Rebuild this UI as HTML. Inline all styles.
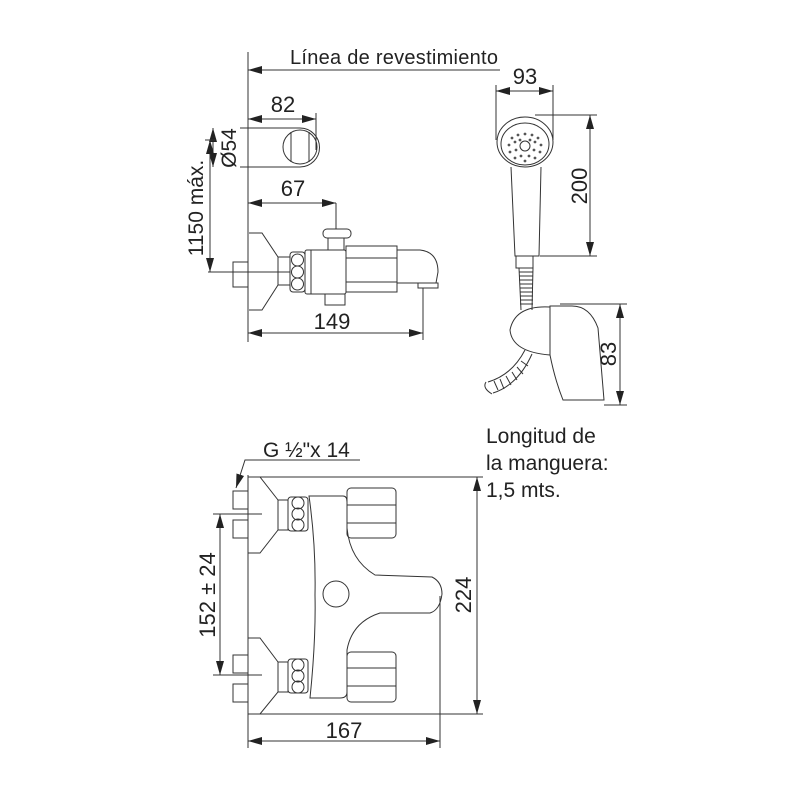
<!DOCTYPE html>
<html><head><meta charset="utf-8"><style>
html,body{margin:0;padding:0;background:#fff;}
svg{display:block}
text{font-family:"Liberation Sans",Arial,sans-serif;fill:#222;}
</style></head><body>
<svg width="800" height="800" viewBox="0 0 800 800" xmlns="http://www.w3.org/2000/svg">
<defs>
<marker id="a" viewBox="0 0 14 8" refX="14" refY="4" markerWidth="14" markerHeight="8" markerUnits="userSpaceOnUse" orient="auto-start-reverse">
<path d="M0,0 L14,4 L0,8 Z" fill="#222"/>
</marker>
</defs>
<g stroke="#333" stroke-width="1" fill="none">
<line x1="248" y1="52" x2="248" y2="342"/>
<line x1="248" y1="70" x2="500" y2="70" marker-start="url(#a)"/>
<line x1="248" y1="119" x2="316" y2="119" marker-start="url(#a)" marker-end="url(#a)"/>
<line x1="316" y1="113" x2="316" y2="150"/>
<path d="M240,128 L300,128 A17,17 0 1,1 300,167 L240,167"/>
<circle cx="300" cy="147" r="17"/>
<path d="M291,132 L291,162 M309,132 L309,162"/>
<line x1="213" y1="128" x2="213" y2="167" marker-start="url(#a)" marker-end="url(#a)"/>
<line x1="210" y1="140" x2="210" y2="272" marker-start="url(#a)" marker-end="url(#a)"/>
<line x1="205" y1="140" x2="215" y2="140"/>
<line x1="208" y1="272" x2="290" y2="272"/>
<line x1="248" y1="203" x2="336" y2="203" marker-start="url(#a)" marker-end="url(#a)"/>
<line x1="336" y1="203" x2="336" y2="229"/>
<path d="M249,233 L262,233 L278,257 L278,285 L262,310 L249,310"/>
<rect x="233" y="262" width="15" height="25"/>
<rect x="278" y="257" width="12" height="28"/>
<rect x="290" y="252" width="15" height="40" rx="3"/>
<circle cx="297.5" cy="260" r="6"/><circle cx="297.5" cy="272" r="6"/><circle cx="297.5" cy="284" r="6"/>
<rect x="305" y="250" width="41" height="44" rx="2"/>
<line x1="311" y1="250" x2="311" y2="294"/>
<rect x="325" y="294" width="20" height="11"/>
<rect x="323" y="229" width="28" height="9" rx="4"/>
<rect x="328" y="238" width="16" height="12"/>
<path d="M346,246 L397,246 L397,292 L346,292 Z"/>
<line x1="346" y1="258" x2="397" y2="258"/><line x1="346" y1="282" x2="397" y2="282"/>
<path d="M397,250 L420,250 Q438,252 438,272 L436,283 L397,283"/>
<rect x="418" y="283" width="20" height="5"/>
<line x1="248" y1="333" x2="423" y2="333" marker-start="url(#a)" marker-end="url(#a)"/>
<line x1="423" y1="288" x2="423" y2="340"/>

<line x1="496" y1="85" x2="496" y2="140"/>
<line x1="553" y1="85" x2="553" y2="140"/>
<line x1="496" y1="91" x2="553" y2="91" marker-start="url(#a)" marker-end="url(#a)"/>
<line x1="535" y1="115" x2="597" y2="115"/>
<line x1="540" y1="256" x2="597" y2="256"/>
<line x1="590" y1="115" x2="590" y2="256" marker-start="url(#a)" marker-end="url(#a)"/>
<ellipse cx="525" cy="142" rx="28" ry="25"/>
<ellipse cx="525" cy="144" rx="24" ry="21"/>
<circle cx="525" cy="146" r="5"/>
<g fill="#555" stroke="none">
<circle cx="512" cy="138" r="1.4"/><circle cx="518" cy="135" r="1.4"/><circle cx="525" cy="134" r="1.4"/><circle cx="532" cy="135" r="1.4"/><circle cx="538" cy="138" r="1.4"/>
<circle cx="509" cy="145" r="1.4"/><circle cx="515" cy="142" r="1.4"/><circle cx="535" cy="142" r="1.4"/><circle cx="541" cy="145" r="1.4"/>
<circle cx="510" cy="152" r="1.4"/><circle cx="516" cy="150" r="1.4"/><circle cx="534" cy="150" r="1.4"/><circle cx="540" cy="152" r="1.4"/>
<circle cx="515" cy="158" r="1.4"/><circle cx="521" cy="156" r="1.4"/><circle cx="529" cy="156" r="1.4"/><circle cx="535" cy="158" r="1.4"/>
<circle cx="525" cy="161" r="1.4"/><circle cx="520" cy="140" r="1.4"/><circle cx="530" cy="140" r="1.4"/>
</g>
<path d="M511,167 L515,256 L539,256 L541,167"/>
<rect x="516" y="256" width="17" height="12"/>
<path d="M519,268 L521,310 M533,268 L532,310"/>
<path d="M519,272 h14 M519,276 h14 M519,280 h14 M520,284 h13 M520,288 h13 M520,292 h13 M520,296 h13 M520,300 h13 M520,304 h13"/>
<path d="M550,307 Q515,305 510,330 Q512,352 550,355"/>
<path d="M550,306 L572,306 Q590,306 598,328 L604,400 L563,400 Q555,380 550,355 Z"/>
<line x1="560" y1="304" x2="627" y2="304"/>
<line x1="604" y1="405" x2="627" y2="405"/>
<line x1="620" y1="304" x2="620" y2="405" marker-start="url(#a)" marker-end="url(#a)"/>
<path d="M525,350 Q512,375 488,382 M532,354 Q518,385 493,393"/>
<path d="M486,382 Q482,388 492,394"/>
<path d="M494,381 l4,9 M500,379 l4,10 M506,376 l5,9 M512,372 l5,8 M517,367 l6,7 M521,361 l7,5"/>

<line x1="248" y1="475" x2="248" y2="748"/>
<line x1="248" y1="477" x2="483" y2="477"/>
<line x1="248" y1="714" x2="483" y2="714"/>
<line x1="477" y1="477" x2="477" y2="714" marker-start="url(#a)" marker-end="url(#a)"/>
<path d="M360,460 L245,460 L236,488" marker-end="url(#a)"/>
<line x1="213" y1="514" x2="262" y2="514"/>
<line x1="213" y1="675" x2="262" y2="675"/>
<line x1="220" y1="514" x2="220" y2="675" marker-start="url(#a)" marker-end="url(#a)"/>
<path d="M248,477 L260,477 L278,500 L278,530 L260,553 L248,553"/>
<rect x="233" y="491" width="15" height="18"/><rect x="233" y="520" width="15" height="18"/>
<rect x="278" y="500" width="10" height="30"/>
<rect x="288" y="497" width="20" height="34" rx="3"/>
<circle cx="298" cy="503" r="6"/><circle cx="298" cy="514" r="6"/><circle cx="298" cy="525" r="6"/>
<path d="M248,638 L260,638 L278,662 L278,692 L260,714 L248,714"/>
<rect x="233" y="655" width="15" height="18"/><rect x="233" y="684" width="15" height="18"/>
<rect x="278" y="662" width="10" height="30"/>
<rect x="288" y="659" width="20" height="34" rx="3"/>
<circle cx="298" cy="665" r="6"/><circle cx="298" cy="676" r="6"/><circle cx="298" cy="687" r="6"/>
<path d="M309,496 L343,496 Q347,496 347,502 L347,528 Q350,560 375,575 L432,577 Q442,582 442,594 Q440,610 430,613 L380,613 Q352,622 347,650 L347,692 Q347,698 340,698 L310,698 Q316,640 315,595 Q316,545 309,496 Z"/>
<circle cx="336" cy="594" r="13"/>
<rect x="347" y="488" width="49" height="50" rx="4"/>
<line x1="347" y1="505" x2="396" y2="505"/><line x1="347" y1="523" x2="396" y2="523"/>
<rect x="347" y="652" width="49" height="50" rx="4"/>
<line x1="347" y1="668" x2="396" y2="668"/><line x1="347" y1="686" x2="396" y2="686"/>
<line x1="440" y1="596" x2="440" y2="748"/>
<line x1="248" y1="741" x2="440" y2="741" marker-start="url(#a)" marker-end="url(#a)"/>
</g>
<g font-size="21">
<text x="394" y="64" text-anchor="middle" font-size="20" textLength="208">Línea de revestimiento</text>
<text x="283" y="112" text-anchor="middle" font-size="22">82</text>
<text x="293" y="196" text-anchor="middle" font-size="22">67</text>
<text x="332" y="329" text-anchor="middle" font-size="22">149</text>
<text transform="translate(236,148) rotate(-90)" text-anchor="middle">Ø54</text>
<text transform="translate(203,208) rotate(-90)" text-anchor="middle">1150 máx.</text>
<text x="525" y="84" text-anchor="middle" font-size="22">93</text>
<text transform="translate(587,186) rotate(-90)" text-anchor="middle" font-size="22">200</text>
<text transform="translate(616,354) rotate(-90)" text-anchor="middle" font-size="22">83</text>
<text x="486" y="443">Longitud de</text>
<text x="486" y="470">la manguera:</text>
<text x="486" y="497">1,5 mts.</text>
<text x="263" y="457">G ½"x 14</text>
<text transform="translate(215,595) rotate(-90)" text-anchor="middle" font-size="22">152 ± 24</text>
<text transform="translate(471,595) rotate(-90)" text-anchor="middle" font-size="22">224</text>
<text x="344" y="738" text-anchor="middle" font-size="22">167</text>
</g>
</svg>
</body></html>
